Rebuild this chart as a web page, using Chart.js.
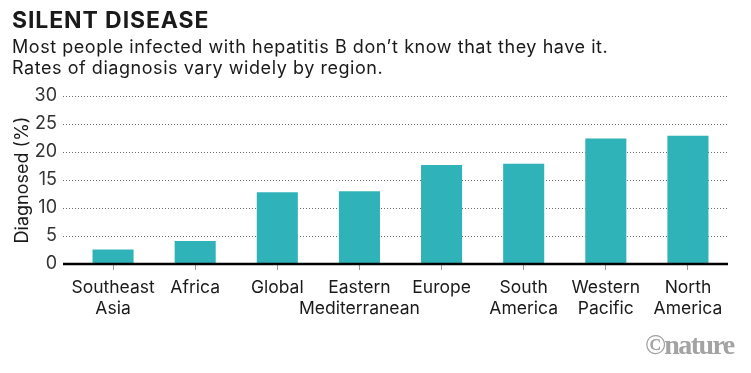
<!DOCTYPE html>
<html>
<head>
<meta charset="utf-8">
<script src="https://cdn.jsdelivr.net/npm/chart.js@4.4.0/dist/chart.umd.min.js"></script>
<style>
  body { margin: 0; background: #fff; }
  #wrap { position: relative; width: 751px; height: 373px; font-family: Inter, sans-serif; color: #1a1a1a; }
  #title { position: absolute; left: 12px; top: 6px; font-size: 23px; font-weight: 700; letter-spacing: 0.9px; }
  #sub { position: absolute; left: 12px; top: 37px; font-size: 18px; line-height: 20.5px; letter-spacing: 0.55px; }
  #logo { position: absolute; left: 645px; top: 329px; font-family: "Liberation Serif", serif; font-weight: 700; font-size: 28px; color: #a3a3a3; letter-spacing: -1.6px; }
  canvas { position: absolute; left: 0; top: 0; }
</style>
</head>
<body>
<div id="wrap">
  <canvas id="chart" width="751" height="373"></canvas>
  <div id="title">SILENT DISEASE</div>
  <div id="sub">Most people infected with hepatitis B don’t know that they have it.<br>Rates of diagnosis vary widely by region.</div>
  <div id="logo">©nature</div>
</div>
<script>
// regions, two-line labels
const regions = [
  ['Southeast', 'Asia'],
  ['Africa'],
  ['Global'],
  ['Eastern', 'Mediterranean'],
  ['Europe'],
  ['South', 'America'],
  ['Western', 'Pacific'],
  ['North', 'America']
];
const diagnosed = [2.6, 4.1, 12.8, 13.0, 17.7, 17.9, 22.4, 22.9];
const yTicks = [0, 5, 10, 15, 20, 25, 30];

// dotted gridlines + black baseline, starting a bit left of the bars
const gridPlugin = {
  id: 'grid',
  beforeDatasetsDraw(chart) {
    const ctx = chart.ctx;
    const y = chart.scales.y;
    const area = chart.chartArea;
    const x0 = 63;
    ctx.save();
    ctx.strokeStyle = '#6a6a6a';
    ctx.lineWidth = 1;
    ctx.setLineDash([1, 2]);
    yTicks.forEach(t => {
      if (t === 0) return;
      const py = Math.round(y.getPixelForValue(t)) + 0.5;
      ctx.beginPath();
      ctx.moveTo(x0, py);
      ctx.lineTo(area.right, py);
      ctx.stroke();
    });
    ctx.restore();
  },
  afterDatasetsDraw(chart) {
    const ctx = chart.ctx;
    const py = chart.scales.y.getPixelForValue(0);
    ctx.save();
    ctx.strokeStyle = '#000';
    ctx.lineWidth = 2.5;
    ctx.beginPath();
    ctx.moveTo(63, py);
    ctx.lineTo(chart.chartArea.right - 1, py);
    ctx.stroke();
    ctx.restore();
  }
};

new Chart(document.getElementById('chart'), {
  type: 'bar',
  data: {
    labels: regions,
    datasets: [{
      label: 'Diagnosed (%)',
      data: diagnosed,
      backgroundColor: '#30b3b8',
      barPercentage: 0.5,
      categoryPercentage: 1.0
    }]
  },
  options: {
    responsive: false,
    animation: false,
    layout: { padding: { top: 96, right: 22, bottom: 0, left: 0 } },
    plugins: { legend: { display: false }, tooltip: { enabled: false } },
    scales: {
      x: {
        border: { display: false },
        grid: { offset: false, drawOnChartArea: false, color: '#999', tickLength: 6 },
        ticks: { color: '#1a1a1a', font: { family: 'Inter', size: 17.5 }, padding: 7, maxRotation: 0, autoSkip: false },
        afterFit(scale) { scale.height = 109; }
      },
      y: {
        min: 0,
        max: 30,
        border: { display: false },
        grid: { display: false, drawTicks: false },
        afterBuildTicks(scale) { scale.ticks = yTicks.map(v => ({ value: v })); },
        ticks: { color: '#333', font: { family: 'Inter', size: 18 }, padding: 15 },
        title: { display: true, text: 'Diagnosed (%)', color: '#1a1a1a', font: { family: 'Inter', size: 18 }, padding: { top: 12, bottom: 0 } },
        afterFit(scale) { scale.width = 72; }
      }
    }
  },
  plugins: [gridPlugin]
});
</script>
</body>
</html>
